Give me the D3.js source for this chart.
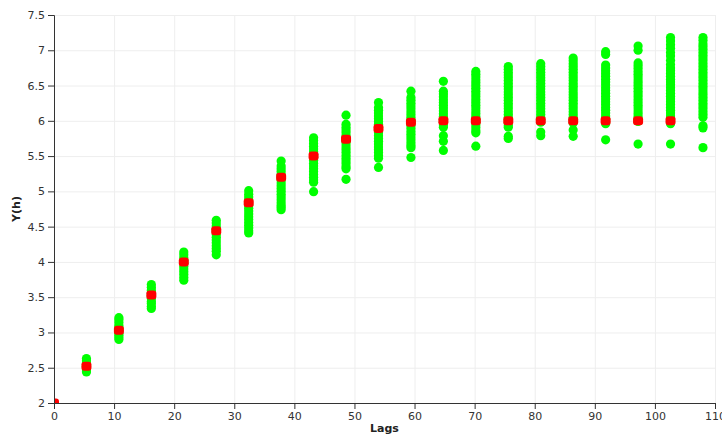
<!DOCTYPE html>
<html>
<head>
<meta charset="utf-8">
<script src="https://cdn.jsdelivr.net/npm/d3@7"></script>
<style>
  html, body { margin: 0; padding: 0; background: #fff; }
  svg { display: block; }
  .tick text { font-family: "DejaVu Sans", Verdana, sans-serif; font-size: 11px; fill: #333; }
  .axis path, .axis line { stroke: #333; }
  .axis-title { font-family: "DejaVu Sans", Verdana, sans-serif; font-size: 11px; font-weight: bold; fill: #222; }
</style>
</head>
<body>
<svg id="chart" width="722" height="434"></svg>
<script>
// Lag distances of each bin
const lags = [0, 5.4, 10.8, 16.2, 21.6, 27, 32.4, 37.8, 43.2, 48.6, 54, 59.4,
              64.8, 70.2, 75.6, 81, 86.4, 91.8, 97.2, 102.6, 108];

// Fitted model value at each lag (red markers)
const modelValues = [2.0, 2.52, 3.03, 3.53, 4.0, 4.44, 4.84, 5.2, 5.5, 5.74, 5.89,
                     5.98, 6.0, 6.0, 6.0, 6.0, 6.0, 6.0, 6.0, 6.0];

// Cloud of semivariance values per lag bin (green markers)
const cloud01 = [];
const cloud02 = [2.63, 2.60, 2.57, 2.55, 2.52, 2.50, 2.47, 2.44];
const cloud03 = [3.21, 3.18, 3.14, 3.10, 3.07, 3.03, 2.99, 2.96, 2.93, 2.90];
const cloud04 = [3.68, 3.64, 3.60, 3.56, 3.52, 3.48, 3.44, 3.41, 3.37, 3.34];
const cloud05 = [4.14, 4.10, 4.06, 4.02, 3.98, 3.94, 3.90, 3.86, 3.82, 3.78, 3.74];
const cloud06 = [4.59, 4.55, 4.51, 4.47, 4.43, 4.39, 4.35, 4.31, 4.27, 4.23, 4.19, 4.15, 4.10];
const cloud07 = [5.01, 4.96, 4.92, 4.88, 4.84, 4.80, 4.76, 4.72, 4.68, 4.64, 4.60, 4.56,
                 4.52, 4.48, 4.44, 4.41];
const cloud08 = [5.43, 5.36, 5.32, 5.28, 5.24, 5.20, 5.16, 5.12, 5.08, 5.04, 5.00, 4.96,
                 4.92, 4.88, 4.84, 4.80, 4.77, 4.74];
const cloud09 = [5.76, 5.72, 5.68, 5.64, 5.60, 5.56, 5.52, 5.48, 5.44, 5.40, 5.36, 5.32,
                 5.28, 5.24, 5.20, 5.16, 5.13, 4.995];
const cloud10 = [6.08, 5.95, 5.91, 5.87, 5.83, 5.79, 5.75, 5.71, 5.67, 5.63, 5.59, 5.55,
                 5.51, 5.47, 5.43, 5.39, 5.35, 5.32, 5.17];
const cloud11 = [6.26, 6.19, 6.15, 6.11, 6.07, 6.03, 5.99, 5.95, 5.91, 5.87, 5.83, 5.79,
                 5.75, 5.71, 5.67, 5.63, 5.59, 5.55, 5.51, 5.47, 5.34];
const cloud12 = [6.42, 6.33, 6.29, 6.25, 6.21, 6.17, 6.13, 6.09, 6.05, 6.01, 5.97, 5.93,
                 5.89, 5.85, 5.81, 5.77, 5.73, 5.69, 5.65, 5.62, 5.48];
const cloud13 = [6.56, 6.42, 6.38, 6.34, 6.30, 6.26, 6.22, 6.18, 6.14, 6.10, 6.06, 6.02,
                 5.98, 5.94, 5.91, 5.79, 5.71, 5.58];
const cloud14 = [6.70, 6.66, 6.62, 6.58, 6.54, 6.50, 6.46, 6.42, 6.38, 6.34, 6.30, 6.26,
                 6.22, 6.18, 6.14, 6.10, 6.06, 6.02, 5.98, 5.94, 5.90, 5.86, 5.83, 5.64];
const cloud15 = [6.77, 6.73, 6.69, 6.65, 6.61, 6.57, 6.53, 6.49, 6.45, 6.41, 6.37, 6.33,
                 6.29, 6.25, 6.21, 6.17, 6.13, 6.09, 6.05, 6.01, 5.97, 5.93, 5.91, 5.78, 5.75];
const cloud16 = [6.81, 6.77, 6.73, 6.69, 6.65, 6.61, 6.57, 6.53, 6.49, 6.45, 6.41, 6.37,
                 6.33, 6.29, 6.25, 6.21, 6.17, 6.13, 6.09, 6.05, 6.01, 5.98, 5.84, 5.79];
const cloud17 = [6.89, 6.85, 6.81, 6.77, 6.73, 6.69, 6.65, 6.61, 6.57, 6.53, 6.49, 6.45,
                 6.41, 6.37, 6.33, 6.29, 6.25, 6.21, 6.17, 6.13, 6.09, 6.05, 6.01, 5.97,
                 5.87, 5.78];
const cloud18 = [6.98, 6.94, 6.79, 6.75, 6.71, 6.67, 6.63, 6.59, 6.55, 6.51, 6.47, 6.43,
                 6.39, 6.35, 6.31, 6.27, 6.23, 6.19, 6.15, 6.11, 6.07, 6.03, 5.99, 5.96, 5.73];
const cloud19 = [7.06, 7.00, 6.82, 6.78, 6.74, 6.70, 6.66, 6.62, 6.58, 6.54, 6.50, 6.46,
                 6.42, 6.38, 6.34, 6.30, 6.26, 6.22, 6.18, 6.14, 6.10, 6.06, 6.02, 5.99, 5.67];
const cloud20 = [7.18, 7.13, 7.08, 7.03, 6.97, 6.92, 6.86, 6.80, 6.75, 6.71, 6.67, 6.63,
                 6.59, 6.55, 6.51, 6.47, 6.43, 6.39, 6.35, 6.31, 6.27, 6.23, 6.19, 6.15,
                 6.11, 6.07, 6.03, 5.99, 5.96, 5.67];
const cloud21 = [7.18, 7.14, 7.09, 7.05, 7.01, 6.97, 6.93, 6.89, 6.85, 6.81, 6.77, 6.73,
                 6.69, 6.65, 6.61, 6.57, 6.53, 6.49, 6.45, 6.41, 6.37, 6.33, 6.29, 6.25,
                 6.21, 6.17, 6.13, 6.09, 6.05, 5.93, 5.90, 5.62];
const clouds = [cloud01, cloud02, cloud03, cloud04, cloud05, cloud06, cloud07, cloud08,
                cloud09, cloud10, cloud11, cloud12, cloud13, cloud14, cloud15, cloud16,
                cloud17, cloud18, cloud19, cloud20, cloud21];

// Axis ticks
const xTicks = [0, 10, 20, 30, 40, 50, 60, 70, 80, 90, 100, 110];
const yTicks = [2, 2.5, 3, 3.5, 4, 4.5, 5, 5.5, 6, 6.5, 7, 7.5];

const width = 722, height = 434;
const margin = { top: 15, right: 7, bottom: 31, left: 54 };

const svg = d3.select("#chart");

const x = d3.scaleLinear().domain([0, 110]).range([margin.left, width - margin.right]);
const y = d3.scaleLinear().domain([2, 7.5]).range([height - margin.bottom, margin.top]);

// Gridlines
const grid = svg.append("g").attr("stroke", "#eeeeee").attr("stroke-width", 1);
grid.selectAll("line.v").data(xTicks.slice(1)).join("line")
  .attr("x1", d => x(d) + 0.5).attr("x2", d => x(d) + 0.5)
  .attr("y1", y(7.5)).attr("y2", y(2));
grid.selectAll("line.h").data(yTicks.slice(1)).join("line")
  .attr("x1", x(0)).attr("x2", x(110))
  .attr("y1", d => y(d) + 0.5).attr("y2", d => y(d) + 0.5);

// Clip marks to plot area
svg.append("clipPath").attr("id", "plot-clip")
  .append("rect")
  .attr("x", x(0)).attr("y", y(7.5) - 6)
  .attr("width", x(110) - x(0) + 6).attr("height", y(2) - y(7.5) + 6);

const marks = svg.append("g").attr("clip-path", "url(#plot-clip)");

// Cloud points
const cloudPts = [];
clouds.forEach((vals, i) => vals.forEach(v => cloudPts.push({ lag: lags[i], v })));
marks.append("g").selectAll("circle").data(cloudPts).join("circle")
  .attr("cx", d => x(d.lag)).attr("cy", d => y(d.v))
  .attr("r", 4.6).attr("fill", "#00ff00");

// Model points
const modelPts = modelValues.map((v, i) => ({ lag: lags[i], v }));
marks.append("g").selectAll("rect").data(modelPts).join("rect")
  .attr("x", d => x(d.lag) - 5).attr("y", d => y(d.v) - 4.5)
  .attr("width", 10).attr("height", 9).attr("rx", 3)
  .attr("fill", "#ff0000");

// Axes
svg.append("g").attr("class", "axis")
  .attr("transform", `translate(0,${y(2)})`)
  .call(d3.axisBottom(x).tickValues(xTicks).tickFormat(d3.format("d")).tickSize(6));

svg.append("g").attr("class", "axis")
  .attr("transform", `translate(${x(0)},0)`)
  .call(d3.axisLeft(y).tickValues(yTicks).tickFormat(d => String(d)).tickSize(6));

// Axis titles
svg.append("text").attr("class", "axis-title")
  .attr("x", (x(0) + x(110)) / 2).attr("y", height - 2)
  .attr("text-anchor", "middle").text("Lags");

svg.append("text").attr("class", "axis-title")
  .attr("transform", `translate(20,${(y(2) + y(7.5)) / 2}) rotate(-90)`)
  .attr("text-anchor", "middle").text("Y(h)");
</script>
</body>
</html>
